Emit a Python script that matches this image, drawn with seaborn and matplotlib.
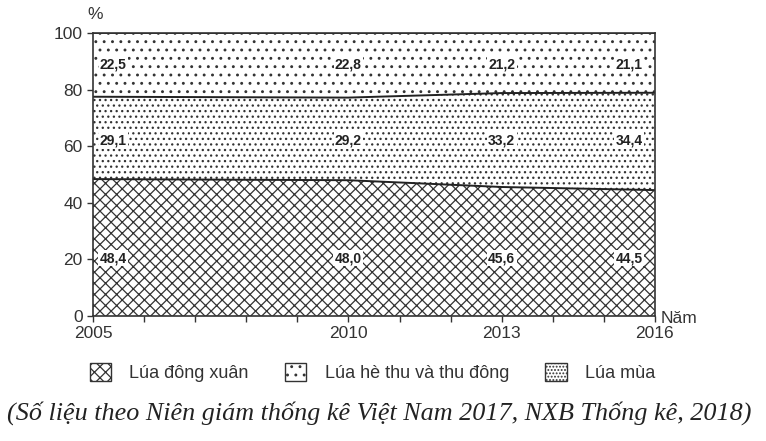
import numpy as np
import pandas as pd
import matplotlib as mpl
mpl.use('Agg')
import matplotlib.pyplot as plt
from matplotlib.patches import Patch
import seaborn as sns

years = [2005, 2010, 2013, 2016]
dong_xuan = [48.4, 48.0, 45.6, 44.5]
he_thu = [29.1, 29.2, 33.2, 34.4]
lua_mua = [22.5, 22.8, 21.2, 21.1]
series_names = ['Lúa đông xuân', 'Lúa hè thu và thu đông', 'Lúa mùa']
label_x = [2005.4, 2010, 2013, 2015.5]

sns.set_style('ticks')
plt.rcParams['font.family'] = ['Liberation Sans', 'DejaVu Sans']
plt.rcParams['hatch.linewidth'] = 0.9

fig = plt.figure(figsize=(7.66, 4.41), dpi=100)
ax = fig.add_axes([0.1214, 0.2834, 0.7336, 0.6416])

df = pd.DataFrame({'year': years, 'dx': dong_xuan, 'ht': he_thu, 'mua': lua_mua})
df['c1'] = df.dx
df['c2'] = df.dx + df.ht
df['c3'] = df.c2 + df.mua

hatches = ['xxx', '...', '..']
lows = [0, df.c1, df.c2]
highs = [df.c1, df.c2, df.c3]
for lo, hi, h in zip(lows, highs, hatches):
    ax.fill_between(df.year, lo, hi, facecolor='white', edgecolor='#333333',
                    hatch=h, linewidth=0)

for col in ['c1', 'c2', 'c3']:
    sns.lineplot(data=df, x='year', y=col, ax=ax, color='#222222', lw=1.4)

# value labels
label_y = [20.5, 62, 89]
for vals, ly in zip([dong_xuan, he_thu, lua_mua], label_y):
    for xv, v in zip(label_x, vals):
        ax.text(xv, ly, f'{v:.1f}'.replace('.', ','), ha='center', va='center',
                fontsize=10, fontweight='bold', color='#222222',
                bbox=dict(facecolor='white', edgecolor='none', pad=1))

ax.set_xlim(2005, 2016)
ax.set_ylim(0, 100)
ax.set_xticks(years)
ax.set_xticks(range(2005, 2017), minor=True)
ax.set_yticks(range(0, 101, 20))
ax.tick_params(axis='both', labelsize=12.5, length=4, width=1, color='#333333',
               labelcolor='#333333')
ax.tick_params(axis='x', which='minor', length=4, width=1, color='#333333')
ax.set_xlabel('')
ax.set_ylabel('')
for s in ax.spines.values():
    s.set_linewidth(1.2)
    s.set_color('#333333')

ax.text(-0.01, 1.065, '%', transform=ax.transAxes, fontsize=12.5, color='#333333',
        ha='left', va='center')
ax.text(1.01, -0.007, 'Năm', transform=ax.transAxes, fontsize=12.5, color='#333333',
        ha='left', va='center')

handles = [Patch(facecolor='white', edgecolor='#333333', hatch=h, label=n)
           for h, n in zip(['xxx', '..', '.....'], series_names)]
fig.legend(handles=handles, loc='center', bbox_to_anchor=(0.486, 0.155), ncol=3,
           frameon=False, fontsize=13, handlelength=1.2, handleheight=1.2,
           columnspacing=2.0, handletextpad=1.0, labelcolor='#333333')

fig.text(0.495, 0.063,
         '(Số liệu theo Niên giám thống kê Việt Nam 2017, NXB Thống kê, 2018)',
         ha='center', va='center', fontsize=18.8, style='italic',
         family=['Liberation Serif', 'DejaVu Serif'], color='#222222')

fig.savefig('out.png', dpi=100)
